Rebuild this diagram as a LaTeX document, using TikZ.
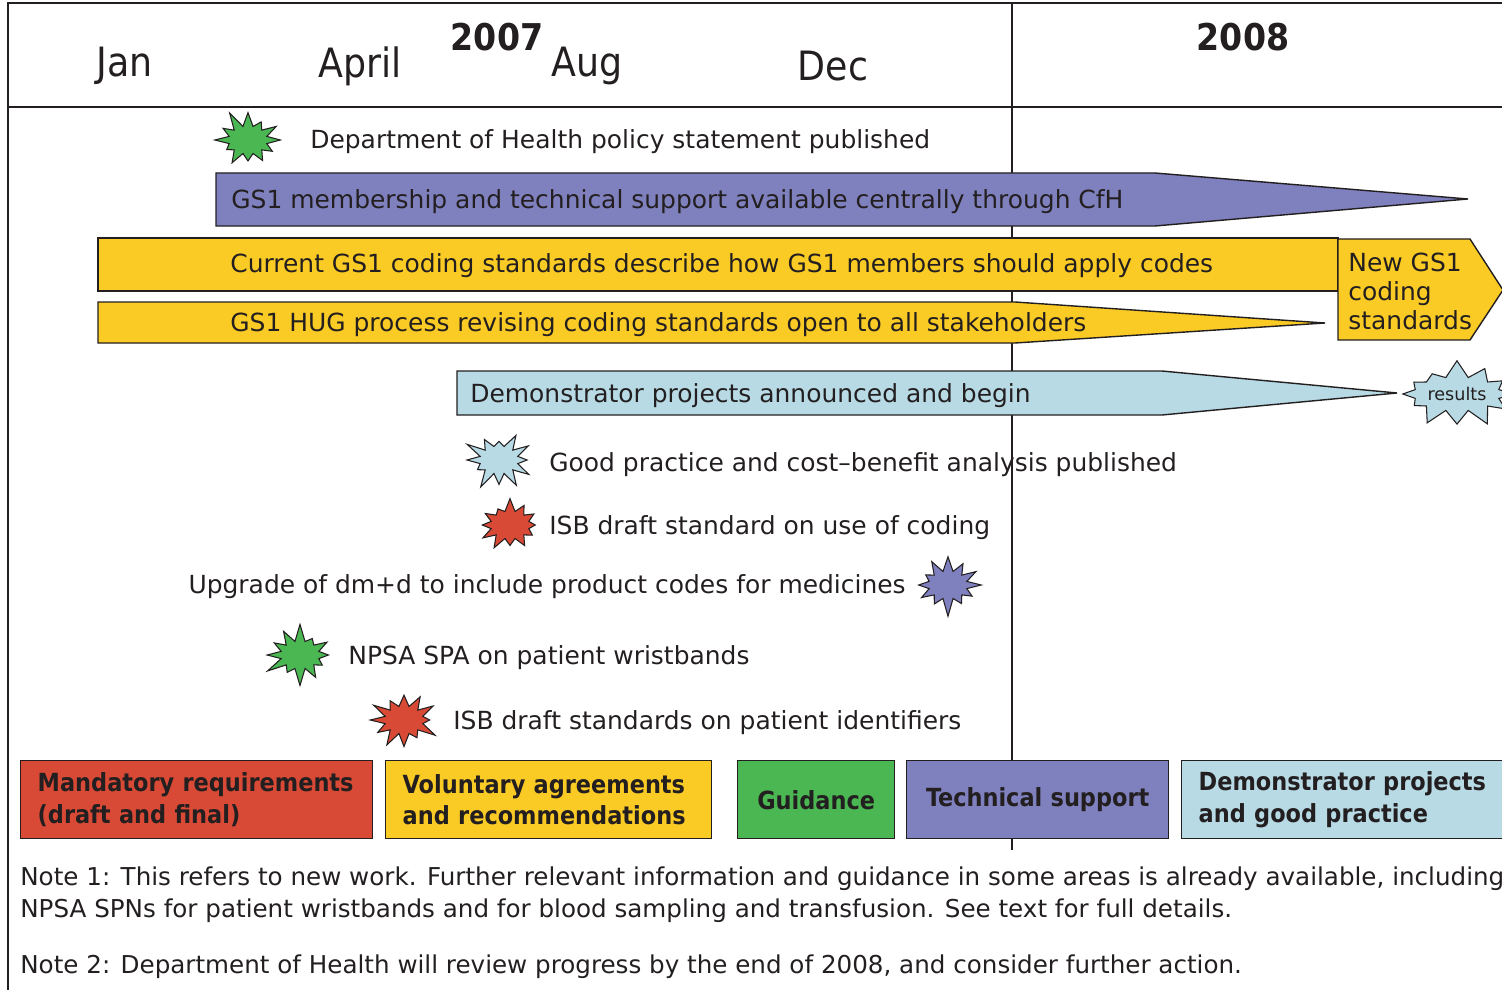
\documentclass[tikz,border=0pt]{standalone}
\usepackage{fontspec}
\setmainfont{DejaVu Sans}
\newfontfamily\narrowfont{DejaVu Sans Condensed}
\usetikzlibrary{shapes.symbols}

\definecolor{techpurple}{HTML}{7F80BE}
\definecolor{volyellow}{HTML}{FBCB25}
\definecolor{demoblue}{HTML}{B7DAE5}
\definecolor{guidegreen}{HTML}{4BB752}
\definecolor{mandred}{HTML}{D84A35}
\definecolor{inkgray}{HTML}{231F20}

\tikzset{
  frame/.style={draw=inkgray, line width=0.9pt},
  bar/.style={draw=inkgray, line width=0.8pt},
  burst/.style={starburst, starburst points=12, starburst point height=0.36cm,
    draw=inkgray, line width=0.6pt, minimum width=1.5cm, minimum height=1.28cm, inner sep=0pt},
  event/.style={anchor=west, inner sep=0pt, text=inkgray, font=\fontsize{14.2}{17}\selectfont},
  month/.style={inner sep=0pt, text=inkgray, font=\narrowfont\fontsize{23}{26}\selectfont},
  year/.style={inner sep=0pt, text=inkgray, font=\narrowfont\bfseries\fontsize{21}{24}\selectfont},
  key/.style={draw=inkgray, line width=0.8pt, anchor=north west, minimum height=1.56cm,
    inner xsep=0.34cm, align=left, text=inkgray, font=\narrowfont\bfseries\fontsize{14.2}{18}\selectfont},
  note/.style={anchor=west, inner sep=0pt, align=left, text=inkgray, font=\fontsize{14}{18}\selectfont}
}

\begin{document}
\begin{tikzpicture}[x=0.02cm, y=-0.02cm]
  \useasboundingbox (0,0) rectangle (1502,990);
  \clip (0,0) rectangle (1502,990);

  % frame and time grid
  \draw[frame] (8,990) -- (8,3) -- (1502,3);
  \draw[frame] (8,107) -- (1502,107);
  \draw[frame] (1012,3) -- (1012,850);

  % header
  \node[month] (jan) at (125,66) {Jan};
  \node[month] (apr) at (360,66) {April};
  \node[year] (y07) at (497,37) {2007};
  \node[month] (aug) at (587,66) {Aug};
  \node[month] (dec) at (833,66) {Dec};
  \node[year] (y08) at (1243,37) {2008};

  % bars
  \draw[bar, fill=techpurple] (216,173) -- (1155,173) -- (1468,199) -- (1155,226) -- (216,226) -- cycle;
  \draw[bar, fill=volyellow] (98,238) -- (1338,238) -- (1338,291) -- (98,291) -- cycle;
  \draw[bar, fill=volyellow] (1338,239) -- (1470,239) -- (1503,290) -- (1470,340) -- (1338,340) -- cycle;
  \draw[bar, fill=volyellow] (98,302) -- (1015,302) -- (1325,323) -- (1015,343) -- (98,343) -- cycle;
  \draw[bar, fill=demoblue] (457,371) -- (1162,371) -- (1397,393) -- (1162,415) -- (457,415) -- cycle;

  \node[event] (gsone) at (231,202) {GS1 membership and technical support available centrally through CfH};
  \node[event] (current) at (230,266) {Current GS1 coding standards describe how GS1 members should apply codes};
  \node[event, align=left, font=\fontsize{14.2}{16.5}\selectfont] (newgs) at (1348,291) {New GS1\\coding\\standards};
  \node[event] (hug) at (230,325) {GS1 HUG process revising coding standards open to all stakeholders};
  \node[event] (demo) at (470,396) {Demonstrator projects announced and begin};
  \node[burst, fill=demoblue, random starburst=7, minimum width=2.45cm, minimum height=1.4cm,
    starburst point height=0.36cm, text=inkgray, font=\fontsize{10}{12}\selectfont] (results) at (1457,394) {results};

  % milestones
  \node[burst, fill=guidegreen, random starburst=11] (dohstar) at (248,140) {};
  \node[event] (doh) at (310,142) {Department of Health policy statement published};
  \node[burst, fill=demoblue, random starburst=23] (goodstar) at (499,460) {};
  \node[event] (good) at (549,465) {Good practice and cost–benefit analysis published};
  \node[burst, fill=mandred, random starburst=31] (isbstar) at (510,525) {};
  \node[event] (isb) at (549,528) {ISB draft standard on use of coding};
  \node[event, anchor=east] (dmd) at (906,587) {Upgrade of dm+d to include product codes for medicines};
  \node[burst, fill=techpurple, random starburst=47] (dmdstar) at (948,585) {};
  \node[burst, fill=guidegreen, random starburst=53] (npsastar) at (300,655) {};
  \node[event] (npsa) at (348,658) {NPSA SPA on patient wristbands};
  \node[burst, fill=mandred, random starburst=61] (idstar) at (404,720) {};
  \node[event] (ids) at (453,723) {ISB draft standards on patient identifiers};

  % key
  \node[key, fill=mandred, text width=6.36cm] (kmand) at (20,760) {Mandatory requirements\\(draft and final)};
  \node[key, fill=volyellow, text width=5.84cm] (kvol) at (385,760) {Voluntary agreements\\and recommendations};
  \node[key, fill=guidegreen, text width=2.46cm, align=center] (kguide) at (737,760) {Guidance};
  \node[key, fill=techpurple, text width=4.56cm, align=center] (ktech) at (906,760) {Technical support};
  \node[key, fill=demoblue, text width=6.6cm] (kdemo) at (1181,760) {Demonstrator projects\\and good practice};

  % notes
  \node[note] (noteone) at (20,895) {Note 1: This refers to new work. Further relevant information and guidance in some areas is already available, including\\NPSA SPNs for patient wristbands and for blood sampling and transfusion. See text for full details.};
  \node[note] (notetwo) at (20,967) {Note 2: Department of Health will review progress by the end of 2008, and consider further action.};
\end{tikzpicture}
\end{document}
